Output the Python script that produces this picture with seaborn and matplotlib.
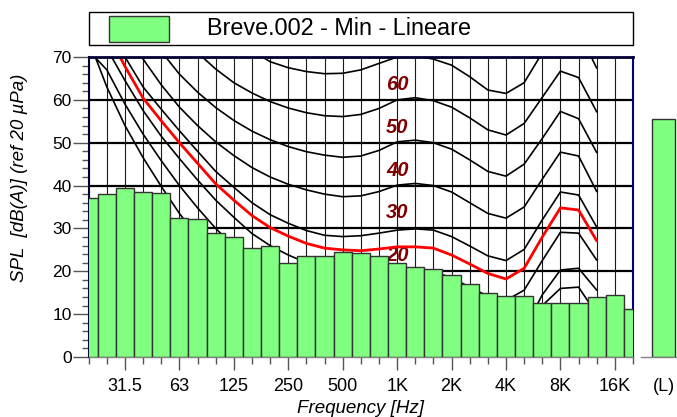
import matplotlib
matplotlib.use("Agg")
import matplotlib.pyplot as plt
from matplotlib.patches import Rectangle
from matplotlib.ticker import FixedLocator, MultipleLocator
import seaborn as sns
import pandas as pd

# ---------------- data ----------------
bands = ['20', '25', '31.5', '40', '50', '63', '80', '100', '125', '160', '200', '250',
         '315', '400', '500', '630', '800', '1K', '1.25K', '1.6K', '2K', '2.5K', '3.15K',
         '4K', '5K', '6.3K', '8K', '10K', '12.5K', '16K', '20K']
spl = [37.2, 38.1, 39.5, 38.6, 38.3, 32.5, 32.3, 28.9, 27.9, 25.5, 25.8, 21.9, 23.6, 23.6,
       24.6, 24.2, 23.6, 22.0, 21.0, 20.5, 19.1, 17.0, 15.0, 14.2, 14.3, 12.5, 12.7, 12.5,
       13.9, 14.5, 11.1]
total_label = '(L)'
total_value = 55.5

octave_labels = ['31.5', '63', '125', '250', '500', '1K', '2K', '4K', '8K', '16K']

# equal-loudness contours, 20 Hz .. 12.5 kHz (29 bands)
red_curve = [84, 76, 67.8, 60.4, 55.1, 50.0, 45.2, 40.4, 36.6, 33.0, 30.2, 28.2, 26.5, 25.4,
             25.0, 24.8, 25.2, 25.7, 25.7, 25.4, 23.8, 21.7, 19.5, 18.2, 20.7, 28.0, 34.8,
             34.3, 27.1]
phon_0 = [74, 63, 54, 46.5, 39.8, 33.5, 28, 23, 18.5, 14.5, 11.2, 8.5, 6.5, 5, 4, 3.5, 3.3,
          3, 3, 2.5, 1.2, -1, -3, -4, -1.5, 12, 16.0, 16.3, 10]
phon_10 = [71.5, 67, 59, 52, 45.8, 40, 34.8, 30, 25.8, 22, 18.8, 16.3, 14.3, 12.8, 11.8, 11.3,
           11.2, 11, 11, 10.5, 9.2, 7.2, 5, 4, 6.5, 14.5, 20.3, 20.7, 15.6]
phon_20 = [79, 72, 64.5, 57.5, 51.5, 46.3, 41.3, 36.6, 32.6, 28.8, 26, 23.8, 22, 20.8, 20.2,
           20.1, 20.3, 20.2, 20.3, 19.9, 18.5, 16.3, 14.2, 13.2, 15.6, 22.5, 29.1, 28.9, 22.6]
phon_30 = [87, 79, 70, 63, 57.8, 52.8, 48, 43.3, 39.6, 36, 33.2, 31.2, 29.5, 28.4, 28.1, 28.3,
           28.9, 29.6, 29.9, 29.6, 28.1, 25.9, 23.6, 22.5, 25.1, 32, 38.5, 37.8, 30.3]
phon_40 = [90, 83, 76, 69.5, 63.5, 58.3, 54, 50.2, 47, 44.2, 42, 40.3, 39, 38, 37.4, 37.6,
           38.6, 40.1, 40.5, 40, 38.5, 36, 33.5, 32.4, 35, 41.5, 47.8, 46.9, 38.6]
phon_50 = [95, 88, 82, 76.5, 71.3, 66, 61.8, 58.2, 55.2, 52.7, 50.7, 49.1, 47.9, 47.1, 46.6,
           46.9, 48.2, 50.2, 50.6, 50, 48.5, 46, 43.3, 42.2, 45, 51, 57.3, 55.6, 47.7]
phon_60 = [100, 94, 88, 83, 78, 74.5, 71, 67.2, 64, 61.6, 59.6, 58.1, 57, 56.3, 56.1, 56.6,
           58, 60, 60.5, 59.8, 58.3, 55.8, 53, 51.8, 54.5, 60.6, 66.7, 65.2, 57.2]
phon_70 = [105, 100, 95, 91, 87, 84, 80.5, 77.5, 74, 71.5, 68.9, 67.5, 66.6, 66.1, 66.2, 67,
           68.5, 70, 70.3, 69.5, 68.1, 65.4, 62.3, 61.5, 64, 71, 77, 76, 67.4]
black_curves = [phon_0, phon_10, phon_20, phon_30, phon_40, phon_50, phon_60, phon_70]
curve_labels = [20, 30, 40, 50, 60]

legend_text = 'Breve.002 - Min - Lineare'
ylabel = 'SPL  [dB(A)] (ref 20 \u00b5Pa)'
xlabel = 'Frequency [Hz]'

# ---------------- style ----------------
sns.set_style('white')
plt.rcParams['font.family'] = ['Liberation Sans', 'DejaVu Sans']
plt.rcParams['text.color'] = 'black'
plt.rcParams['axes.labelcolor'] = 'black'
plt.rcParams['xtick.color'] = 'black'
plt.rcParams['ytick.color'] = 'black'

GREEN = '#80FF80'
W, H = 677, 417
fig = plt.figure(figsize=(W / 100, H / 100), dpi=100)

def fx(px):
    return px / W

def fy(py):
    return 1 - py / H

ax = fig.add_axes([fx(88.7), fy(357), fx(633 - 88.7), (357 - 57) / H])
ax2 = fig.add_axes([fx(641), fy(357), fx(677 - 641), (357 - 57) / H])

df = pd.DataFrame({'band': bands, 'spl': spl})
sns.barplot(data=df, x='band', y='spl', ax=ax, color=GREEN, saturation=1, width=1,
            edgecolor='#333333', linewidth=1.0, zorder=3)

pos = list(range(len(red_curve)))
for c in black_curves:
    sns.lineplot(x=pos, y=c, ax=ax, color='black', linewidth=1.2, zorder=2,
                 estimator=None, sort=False, legend=False)
sns.lineplot(x=pos, y=red_curve, ax=ax, color='#FF0000', linewidth=2.0, zorder=2.5,
             estimator=None, sort=False, legend=False)

k1 = bands.index('1K')
for lv in curve_labels:
    ax.text(k1, lv + 3.6, str(lv), color='#800000', fontsize=14.5, fontweight='bold',
            fontstyle='italic', ha='center', va='center', zorder=2.2)

ax.set_xlim(0, len(bands) - 1)
ax.set_ylim(0, 70)

major_pos = [bands.index(b) for b in octave_labels]
minor_pos = [i for i in range(len(bands)) if i not in major_pos]
ax.xaxis.set_major_locator(FixedLocator(major_pos))
ax.set_xticklabels(octave_labels)
ax.xaxis.set_minor_locator(FixedLocator(minor_pos))
ax.yaxis.set_major_locator(MultipleLocator(10))
ax.yaxis.set_minor_locator(MultipleLocator(2))

ax.set_axisbelow(True)
ax.xaxis.grid(True, which='both', color='#1a1a1a', linewidth=0.8)
ax.yaxis.grid(True, which='major', color='black', linewidth=1.6)
ax.yaxis.grid(False, which='minor')

ax.tick_params(axis='x', which='major', direction='out', length=9.4, width=1,
               color='#555555', labelsize=13, pad=5.5, bottom=True, labelcolor='black')
ax.tick_params(axis='x', which='minor', direction='out', length=5, width=1,
               color='#555555', bottom=True)
ax.tick_params(axis='y', which='major', direction='out', length=11.2, width=1,
               color='#555555', labelsize=12.5, pad=1, left=True, labelcolor='black')
ax.tick_params(axis='y', which='minor', direction='out', length=4.8, width=1,
               color='#555555', left=True)

for s in ['left', 'top', 'right']:
    ax.spines[s].set_visible(True)
ax.spines['left'].set_color('#000033')
ax.spines['left'].set_linewidth(1.5)
ax.spines['top'].set_color('#000033')
ax.spines['top'].set_linewidth(2.0)
ax.spines['right'].set_color('#000080')
ax.spines['right'].set_linewidth(1.5)
ax.spines['bottom'].set_color('#808080')
ax.spines['bottom'].set_linewidth(1.0)

ax.set_xlabel(xlabel, fontsize=13.5, fontstyle='italic')
ax.xaxis.set_label_coords(0.5, (357 - 400) / 300)
ax.set_ylabel(ylabel, fontsize=13.5, fontstyle='italic')
ax.yaxis.set_label_coords((28 - 88.7) / 544.3, (357 - 177.5) / 300)

# overall level bar
sns.barplot(x=[total_label], y=[total_value], ax=ax2, color=GREEN, saturation=1,
            width=0.64, edgecolor='#333333', linewidth=1.0)
ax2.set_xlim(-0.625, 0.375)
ax2.set_ylim(0, 70)
ax2.set_yticks([])
ax2.set_xlabel('')
ax2.set_ylabel('')
for s in ['left', 'top', 'right']:
    ax2.spines[s].set_visible(False)
ax2.spines['bottom'].set_color('#808080')
ax2.spines['bottom'].set_linewidth(1.0)
ax2.tick_params(axis='x', length=0, labelsize=13, pad=9.4 + 5.5, labelcolor='black')

# legend box
fig.patches.append(Rectangle((fx(88.7), fy(45)), fx(633 - 88.7), (45 - 12.3) / H,
                             transform=fig.transFigure, fill=False, edgecolor='black',
                             linewidth=1.0))
fig.patches.append(Rectangle((fx(109), fy(41.7)), fx(60), (41.7 - 16) / H,
                             transform=fig.transFigure, facecolor=GREEN,
                             edgecolor='#333333', linewidth=1.0))
fig.text(fx(207), fy(28.5), legend_text, fontsize=16.8, ha='left', va='center')

fig.savefig('out.png', dpi=100)
